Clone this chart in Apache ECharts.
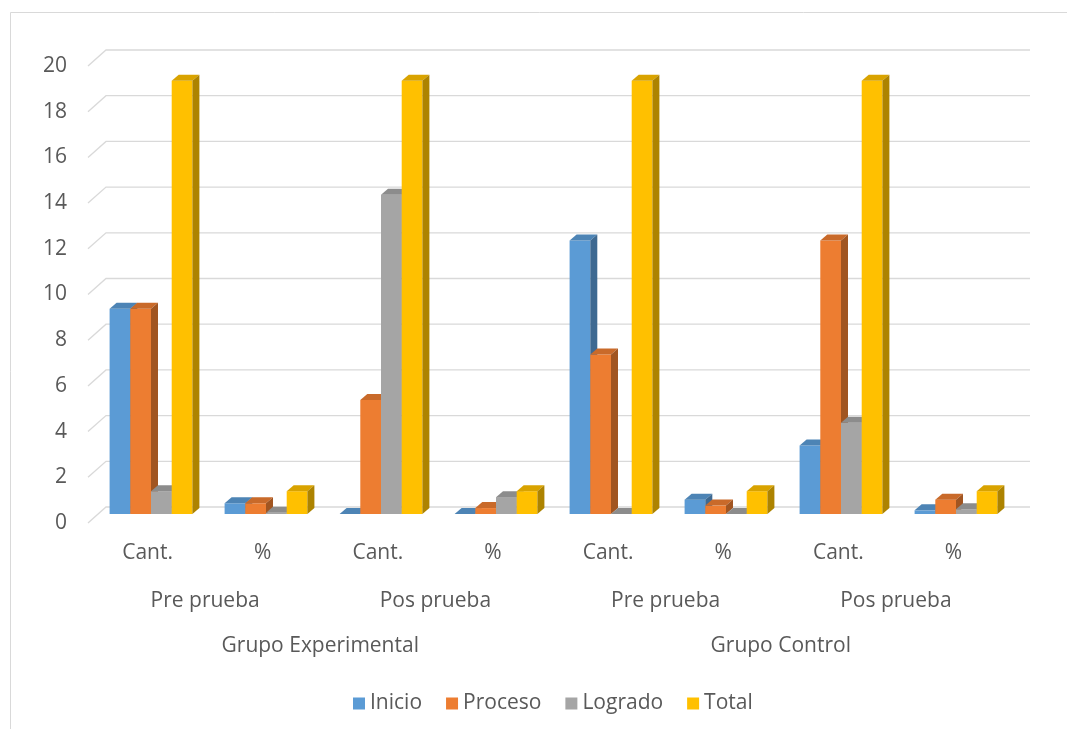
<!DOCTYPE html>
<html><head><meta charset="utf-8">
<script src="https://cdn.jsdelivr.net/npm/echarts@6/dist/echarts.min.js"></script>
<style>html,body{margin:0;padding:0;background:#fff}#c{width:1067px;height:729px}</style>
</head><body><div id="c"></div>
<script>
var categories = ['Cant.', '%', 'Cant.', '%', 'Cant.', '%', 'Cant.', '%'];
var phases = ['Pre prueba', 'Pos prueba', 'Pre prueba', 'Pos prueba'];
var groups = ['Grupo Experimental', 'Grupo Control'];
var seriesNames = ['Inicio', 'Proceso', 'Logrado', 'Total'];
var inicio  = [9, 0.47, 0, 0, 12, 0.63, 3, 0.16];
var proceso = [9, 0.47, 5, 0.26, 7, 0.37, 12, 0.63];
var logrado = [1, 0.05, 14, 0.74, 0, 0, 4, 0.21];
var total   = [19, 1, 19, 1, 19, 1, 19, 1];
var yTicks = [0, 2, 4, 6, 8, 10, 12, 14, 16, 18, 20];
var colors = ['#5B9BD5', '#ED7D31', '#A5A5A5', '#FFC000'];

function shade(hex, f) {
  var n = parseInt(hex.slice(1), 16);
  var r = Math.round(((n >> 16) & 255) * f), g = Math.round(((n >> 8) & 255) * f), b = Math.round((n & 255) * f);
  return 'rgb(' + r + ',' + g + ',' + b + ')';
}
var DX = 7, DY = -6;
function makeRender(sIdx) {
  var c = colors[sIdx];
  return function (params, api) {
    var cat = api.value(0), val = api.value(1);
    var base = api.coord([cat, 0]);
    var top = api.coord([cat, val]);
    var band = api.size([1, 0])[0];
    var bw = band * 0.18;
    var x = base[0] + (sIdx - 2) * bw;
    var ty = top[1], by = base[1];
    return {
      type: 'group',
      children: [
        { type: 'rect', shape: { x: x, y: ty, width: bw, height: by - ty }, style: { fill: c } },
        { type: 'polygon', shape: { points: [[x, ty], [x + DX, ty + DY], [x + bw + DX, ty + DY], [x + bw, ty]] }, style: { fill: shade(c, 0.85) } },
        { type: 'polygon', shape: { points: [[x + bw, ty], [x + bw + DX, ty + DY], [x + bw + DX, by + DY], [x + bw, by]] }, style: { fill: shade(c, 0.68) } }
      ]
    };
  };
}
var allVals = [inicio, proceso, logrado, total];
var font = 'Open Sans';
var txt = '#595959';
var fs = 21;
var series = [];
series.push({
  type: 'custom', xAxisIndex: 1, yAxisIndex: 1, z: 1, silent: true,
  data: yTicks.map(function (v) { return [0, v]; }),
  renderItem: function (params, api) {
    var p = api.coord([0, api.value(1)]);
    var cs = params.coordSys;
    var x0 = cs.x - 2;
    return { type: 'polyline', shape: { points: [[x0, p[1]], [x0 + 18, p[1] - 16], [cs.x + cs.width + 19, p[1] - 16]] },
      style: { stroke: '#d9d9d9', lineWidth: 1.3, fill: null } };
  }
});
for (var i = 0; i < 4; i++) {
  series.push({
    name: seriesNames[i], type: 'custom', xAxisIndex: 0, yAxisIndex: 0, z: 5,
    itemStyle: { color: colors[i] },
    data: allVals[i].map(function (v, k) { return [k, v]; }),
    renderItem: makeRender(i)
  });
}
var chart = echarts.init(document.getElementById('c'));
chart.setOption({
  backgroundColor: '#fff',
  animation: false,
  graphic: [{ type: 'rect', shape: { x: 10.5, y: 12.5, width: 1060, height: 720 }, style: { fill: null, stroke: '#d9d9d9', lineWidth: 1 }, z: 0 }],
  grid: [
    { left: 93.5, right: 53.5, top: 58, bottom: 215 },
    { left: 90, right: 56, top: 66, bottom: 206 }
  ],
  xAxis: [
    { type: 'category', gridIndex: 0, data: categories, axisLine: { show: false }, axisTick: { show: false }, axisLabel: { show: false } },
    { type: 'category', gridIndex: 1, data: categories, axisLine: { show: false }, axisTick: { show: false },
      axisLabel: { margin: 20, color: txt, fontFamily: font, fontSize: fs } },
    { type: 'category', gridIndex: 1, position: 'bottom', offset: 48, data: phases, axisLine: { show: false }, axisTick: { show: false },
      axisLabel: { margin: 20, color: txt, fontFamily: font, fontSize: fs } },
    { type: 'category', gridIndex: 1, position: 'bottom', offset: 93, data: groups, axisLine: { show: false }, axisTick: { show: false },
      axisLabel: { margin: 20, color: txt, fontFamily: font, fontSize: fs } }
  ],
  yAxis: [
    { type: 'value', gridIndex: 0, min: 0, max: 20, interval: 2, axisLabel: { show: false }, splitLine: { show: false }, axisLine: { show: false } },
    { type: 'value', gridIndex: 1, min: 0, max: 20, interval: 2, splitLine: { show: false }, axisLine: { show: false }, axisTick: { show: false },
      axisLabel: { margin: 23, color: txt, fontFamily: font, fontSize: fs } }
  ],
  legend: {
    data: seriesNames, top: 688, left: 348, icon: 'rect', itemWidth: 12, itemHeight: 12, itemGap: 24,
    textStyle: { color: txt, fontFamily: font, fontSize: fs }
  },
  series: series
});
</script></body></html>
